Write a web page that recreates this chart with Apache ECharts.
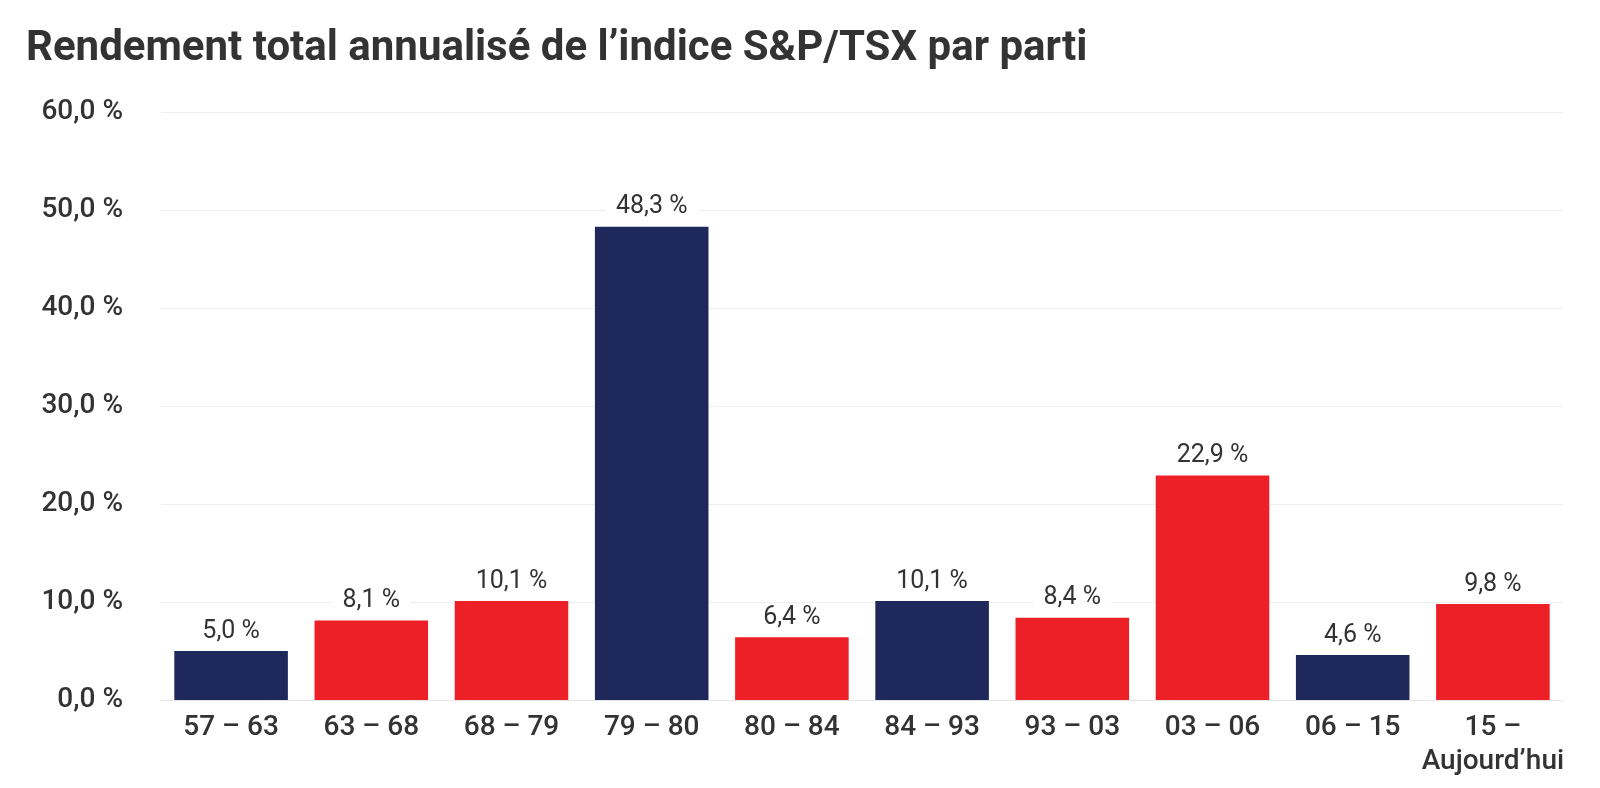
<!DOCTYPE html>
<html>
<head>
<meta charset="utf-8">
<script src="https://cdn.jsdelivr.net/npm/echarts@6/dist/echarts.min.js"></script>
<style>
    html, body { margin: 0; padding: 0; background: #fff; }
    #chart { width: 1600px; height: 788px; }
</style>
</head>
<body>
<div id="chart"></div>
<script>
// periodes de gouvernement et rendement annualise (%)
const categories = ['57 – 63', '63 – 68', '68 – 79', '79 – 80', '80 – 84', '84 – 93', '93 – 03', '03 – 06', '06 – 15', '15 –\nAujourd’hui'];
const returns = [5.0, 8.1, 10.1, 48.3, 6.4, 10.1, 8.4, 22.9, 4.6, 9.8];
const parties = ['PC', 'PL', 'PL', 'PC', 'PL', 'PC', 'PL', 'PL', 'PC', 'PL'];
const yTicks = [0, 10, 20, 30, 40, 50, 60];

const partyColors = { PC: '#1f285a', PL: '#ed1f27' };
const textColor = '#333333';
const fmt = v => v.toFixed(1).replace('.', ',') + ' %';

let myChart = echarts.init(document.getElementById('chart'));

let option = {
    backgroundColor: '#ffffff',
    animation: false,
    textStyle: { fontFamily: 'Roboto' },
    title: {
        text: 'Rendement total annualisé de l’indice S&P/TSX par parti',
        left: 21,
        top: 23,
        textStyle: {
            fontFamily: 'Roboto',
            fontWeight: 'bold',
            fontSize: 42,
            color: '#333333'
        }
    },
    grid: {
        top: 112,
        bottom: 88,
        left: 161,
        right: 37,
        containLabel: false
    },
    xAxis: {
        type: 'category',
        data: categories,
        axisTick: { show: false },
        axisLine: { lineStyle: { color: '#e6e6e6', width: 1 } },
        axisLabel: {
            color: textColor,
            fontSize: 28,
            fontWeight: 500,
            margin: 11,
            lineHeight: 34,
            interval: 0
        }
    },
    yAxis: {
        type: 'value',
        min: yTicks[0],
        max: yTicks[yTicks.length - 1],
        interval: 10,
        axisLine: { show: false },
        axisTick: { show: false },
        splitLine: { lineStyle: { color: '#efefef', width: 1 } },
        axisLabel: {
            color: textColor,
            fontSize: 28,
            fontWeight: 500,
            margin: 38,
            formatter: v => fmt(v)
        }
    },
    series: [{
        type: 'bar',
        barCategoryGap: '19%',
        data: returns.map((v, i) => ({
            value: v,
            itemStyle: { color: partyColors[parties[i]] }
        })),
        label: {
            show: true,
            position: 'top',
            distance: 5,
            color: textColor,
            fontSize: 25,
            backgroundColor: '#ffffff',
            padding: [2, 10],
            formatter: p => fmt(p.value)
        }
    }]
};

myChart.setOption(option);
</script>
</body>
</html>
